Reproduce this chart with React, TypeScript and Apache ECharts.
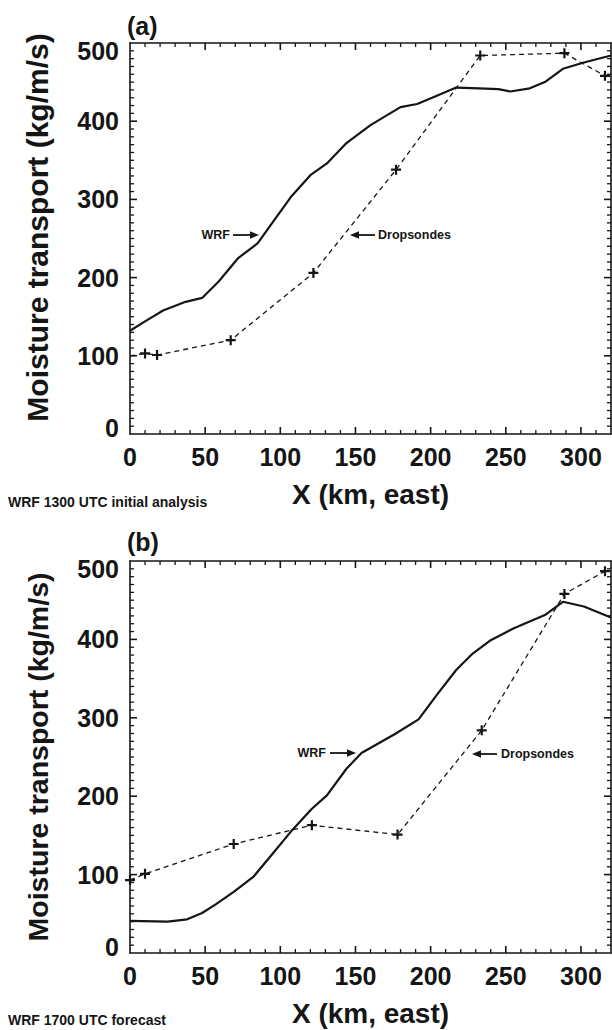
import React, { useEffect, useRef } from "react";
import * as echarts from "echarts";

// Panel (a): WRF 1300 UTC initial analysis vs dropsondes
const wrfAnalysisKm = [0, 10, 22, 37, 48, 59, 72, 85, 95, 107, 120, 131, 144, 160, 173, 180, 191, 201, 217, 232, 245, 253, 266, 276, 288, 302, 320];
const wrfAnalysisFlux = [132, 144, 158, 169, 174, 195, 225, 244, 271, 303, 331, 346, 372, 395, 410, 418, 422, 430, 443, 442, 441, 438, 442, 450, 467, 475, 484];
const sondeAKm = [0, 10, 18, 67, 122, 177, 233, 289, 316];
const sondeAFlux = [100, 103, 101, 120, 206, 338, 484, 487, 458];

// Panel (b): WRF 1700 UTC forecast vs dropsondes
const wrfForecastKm = [0, 25, 38, 48, 57, 69, 82, 95, 108, 121, 131, 144, 154, 176, 192, 204, 217, 228, 240, 255, 276, 288, 302, 320];
const wrfForecastFlux = [41, 40, 43, 51, 62, 78, 97, 127, 157, 184, 201, 235, 255, 279, 298, 329, 361, 382, 399, 414, 431, 448, 442, 428];
const sondeBKm = [0, 10, 69, 121, 178, 234, 289, 316];
const sondeBFlux = [93, 101, 139, 163, 151, 284, 458, 487];

// Axis ranges, labelled steps and minor tick steps
const X_RANGE = [0, 320];
const X_STEP = 50;
const X_MINOR = 10;
const Y_RANGE = [0, 500];
const Y_STEP = 100;
const Y_MINOR = 10;

const panelTags = ["(a)", "(b)"];
const panelCaptions = ["WRF 1300 UTC initial analysis", "WRF 1700 UTC forecast"];
const xTitle = "X (km, east)";
const yTitle = "Moisture transport (kg/m/s)";

const FONT = '"Liberation Sans", Arial, Helvetica, sans-serif';
const INK = "#151515";

// Page layout of the two stacked panels
const layout = [
  {
    top: 43, height: 391, yTitleSize: 30, yTitleShift: 22,
    tagY: 27, captionY: 502,
    wrfText: [230, 235], wrfArrow: [233, 259, 235],
    sondeArrow: [375, 350, 235], sondeText: [378, 235],
    hideFirstSondeMark: true,
  },
  {
    top: 561, height: 392, yTitleSize: 28.5, yTitleShift: 0,
    tagY: 543, captionY: 1020,
    wrfText: [326, 753], wrfArrow: [330, 356, 753],
    sondeArrow: [497, 472, 754], sondeText: [501, 754],
    hideFirstSondeMark: false,
  },
];
const GRID_LEFT = 130;
const GRID_WIDTH = 481;
const AXES_PER_GRID = 2;
const MAJOR_LEN = 7;
const MINOR_LEN = 4;

const PLUS = "path://M3.9,0H6.1V3.9H10V6.1H6.1V10H3.9V6.1H0V3.9H3.9Z";

const zip = (xs: number[], ys: number[]) => xs.map((x, i) => [x, ys[i]]);

// interior tick positions between the axis ends
function interiorTicks(range: number[], step: number) {
  const out: number[] = [];
  for (let k = 1; range[0] + k * step < range[1]; k++) out.push(range[0] + k * step);
  return out;
}

const labelText = () => ({ fontFamily: FONT, fontWeight: "bold" as const, color: INK, fontSize: 25 });
const frameLine = () => ({ show: true, onZero: false, lineStyle: { color: INK, width: 1.6 } });
const noTicks = () => ({ axisTick: { show: false }, minorTick: { show: false }, splitLine: { show: false } });

function xAxes(grid: number) {
  const scale = () => ({ type: "value", gridIndex: grid, min: X_RANGE[0], max: X_RANGE[1], interval: X_STEP, ...noTicks() });
  return [
    {
      ...scale(),
      position: "bottom",
      axisLine: frameLine(),
      axisLabel: { show: true, margin: 10, showMaxLabel: false, ...labelText() },
      name: xTitle,
      nameLocation: "middle",
      nameGap: 46,
      nameTextStyle: { fontFamily: FONT, fontWeight: "bold", color: INK, fontSize: 28 },
    },
    { ...scale(), position: "top", axisLine: frameLine(), axisLabel: { show: false } },
  ];
}

function yAxes(grid: number, titleSize: number, titleShift: number) {
  const scale = () => ({ type: "value", gridIndex: grid, min: Y_RANGE[0], max: Y_RANGE[1], interval: Y_STEP, ...noTicks() });
  return [
    {
      ...scale(),
      position: "left",
      axisLine: frameLine(),
      axisLabel: {
        show: true,
        margin: 11,
        ...labelText(),
        // end labels sit slightly inside the frame
        formatter: (v: number) =>
          v === Y_RANGE[1] ? `{hi|${v}}` : v === Y_RANGE[0] ? `{lo|${v}}` : `${v}`,
        rich: {
          hi: { ...labelText(), padding: [16, 0, 0, 0] },
          lo: { ...labelText(), padding: [0, 0, 13, 0] },
        },
      },
      name: yTitle,
      nameLocation: "middle",
      nameGap: 78,
      nameTextStyle: {
        fontFamily: FONT,
        fontWeight: "bold",
        color: INK,
        fontSize: titleSize,
        padding: [0, 0, 0, titleShift],
      },
    },
    { ...scale(), position: "right", axisLine: frameLine(), axisLabel: { show: false } },
  ];
}

// Inward frame ticks on all four sides, placed through the axis scales
function frameTickSeries(axisIdx: number) {
  const xTicks = interiorTicks(X_RANGE, X_MINOR).map((v) => [v, v % X_STEP === 0 ? MAJOR_LEN : MINOR_LEN]);
  const yTicks = interiorTicks(Y_RANGE, Y_MINOR).map((v) => [v % Y_STEP === 0 ? MAJOR_LEN : MINOR_LEN, v]);
  const tickLine = (x1: number, y1: number, x2: number, y2: number, len: number) => ({
    type: "line",
    shape: { x1, y1, x2, y2 },
    style: { stroke: INK, lineWidth: len === MAJOR_LEN ? 1.6 : 1.3 },
  });
  return [
    {
      type: "custom",
      xAxisIndex: axisIdx,
      yAxisIndex: axisIdx,
      silent: true,
      z: 5,
      data: xTicks,
      renderItem: (params: any, api: any) => {
        const cs = params.coordSys;
        const len = api.value(1);
        const px = api.coord([api.value(0), Y_RANGE[0]])[0];
        const bottom = cs.y + cs.height;
        return {
          type: "group",
          children: [tickLine(px, bottom, px, bottom - len, len), tickLine(px, cs.y, px, cs.y + len, len)],
        };
      },
    },
    {
      type: "custom",
      xAxisIndex: axisIdx,
      yAxisIndex: axisIdx,
      silent: true,
      z: 5,
      data: yTicks,
      renderItem: (params: any, api: any) => {
        const cs = params.coordSys;
        const len = api.value(0);
        const py = api.coord([X_RANGE[0], api.value(1)])[1];
        const right = cs.x + cs.width;
        return {
          type: "group",
          children: [tickLine(cs.x, py, cs.x + len, py, len), tickLine(right, py, right - len, py, len)],
        };
      },
    },
  ];
}

function arrow(tailX: number, tipX: number, y: number) {
  const dir = Math.sign(tipX - tailX);
  const headLen = 9;
  const halfW = 3.8;
  const baseX = tipX - dir * headLen;
  return [
    { type: "line", silent: true, shape: { x1: tailX, y1: y, x2: baseX + dir, y2: y }, style: { stroke: INK, lineWidth: 1.8 } },
    { type: "polygon", silent: true, shape: { points: [[tipX, y], [baseX, y - halfW], [baseX, y + halfW]] }, style: { fill: INK } },
  ];
}

function buildOption() {
  const wrfSets = [zip(wrfAnalysisKm, wrfAnalysisFlux), zip(wrfForecastKm, wrfForecastFlux)];
  const sondeSets = [zip(sondeAKm, sondeAFlux), zip(sondeBKm, sondeBFlux)];

  const grid = layout.map((p) => ({ left: GRID_LEFT, top: p.top, width: GRID_WIDTH, height: p.height }));
  const xAxis = layout.flatMap((_, i) => xAxes(i));
  const yAxis = layout.flatMap((p, i) => yAxes(i, p.yTitleSize, p.yTitleShift));

  const series: any[] = [];
  layout.forEach((p, i) => {
    const axisIdx = i * AXES_PER_GRID;
    series.push(...frameTickSeries(axisIdx));
    series.push({
      name: "WRF",
      type: "line",
      xAxisIndex: axisIdx,
      yAxisIndex: axisIdx,
      data: wrfSets[i],
      showSymbol: false,
      clip: false,
      lineStyle: { color: INK, width: 2.2 },
    });
    series.push({
      name: "Dropsondes",
      type: "line",
      xAxisIndex: axisIdx,
      yAxisIndex: axisIdx,
      data: sondeSets[i].map((pt, k) =>
        k === 0 && p.hideFirstSondeMark ? { value: pt, symbol: "none" } : { value: pt }
      ),
      symbol: PLUS,
      symbolSize: 10,
      showSymbol: true,
      clip: false,
      itemStyle: { color: INK },
      lineStyle: { color: INK, width: 1.3, type: [5, 4] },
    });
  });

  const graphic: any[] = [];
  layout.forEach((p, i) => {
    graphic.push({
      type: "text", silent: true, left: GRID_LEFT - 3, top: p.tagY - 14,
      style: { text: panelTags[i], font: `bold 25px ${FONT}`, fill: INK },
    });
    graphic.push({
      type: "text", silent: true, x: 8, y: p.captionY,
      style: { text: panelCaptions[i], font: `bold 14px ${FONT}`, fill: INK, verticalAlign: "middle" },
    });
    graphic.push({
      type: "text", silent: true, x: p.wrfText[0], y: p.wrfText[1],
      style: { text: "WRF", font: `bold 12.5px ${FONT}`, fill: INK, align: "right", verticalAlign: "middle" },
    });
    graphic.push(...arrow(p.wrfArrow[0], p.wrfArrow[1], p.wrfArrow[2]));
    graphic.push(...arrow(p.sondeArrow[0], p.sondeArrow[1], p.sondeArrow[2]));
    graphic.push({
      type: "text", silent: true, x: p.sondeText[0], y: p.sondeText[1],
      style: { text: "Dropsondes", font: `bold 12.5px ${FONT}`, fill: INK, align: "left", verticalAlign: "middle" },
    });
  });

  return {
    animation: false,
    backgroundColor: "#ffffff",
    grid,
    xAxis,
    yAxis,
    series,
    graphic,
  };
}

export default function App() {
  const ref = useRef<HTMLDivElement>(null);
  useEffect(() => {
    if (!ref.current) return;
    const chart = echarts.init(ref.current, null, { renderer: "svg" });
    chart.setOption(buildOption() as any);
    return () => chart.dispose();
  }, []);
  return (
    <div
      ref={ref}
      style={{ position: "absolute", left: 0, top: 0, width: 612, height: 1030, background: "#fff" }}
    />
  );
}
